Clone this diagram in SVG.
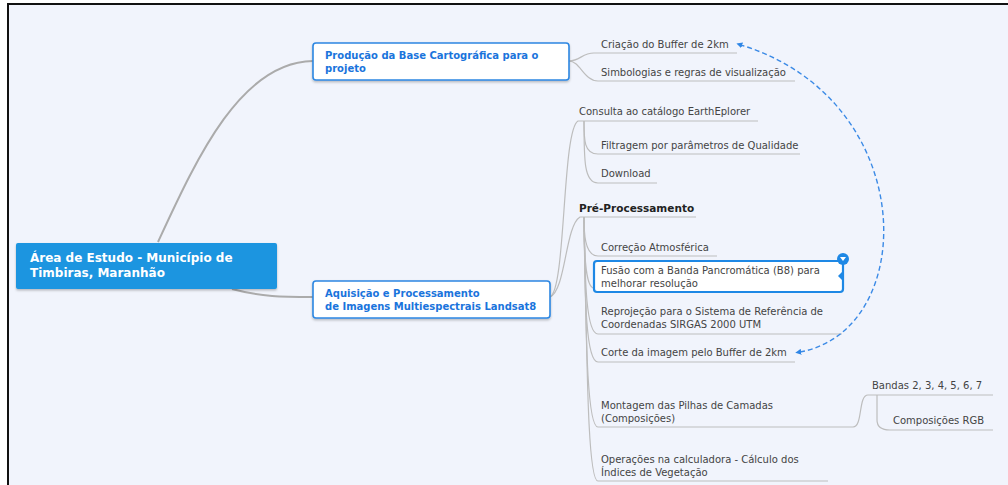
<svg xmlns="http://www.w3.org/2000/svg" width="1008" height="485" viewBox="0 0 1008 485">
<style>
.t{font-family:"DejaVu Sans",Verdana,sans-serif;font-size:10px;fill:#444}
.tb{font-family:"DejaVu Sans",Verdana,sans-serif;font-size:10.5px;font-weight:bold;fill:#222}
.mt{font-family:"DejaVu Sans",Verdana,sans-serif;font-size:10px;font-weight:bold;fill:#1a74dc}
.rt{font-family:"DejaVu Sans",Verdana,sans-serif;font-size:12px;font-weight:bold;fill:#fff}
.ln{fill:none;stroke:#bdbdbd;stroke-width:1.2}
.main{fill:none;stroke:#ababab;stroke-width:2}
.box{fill:#fff;stroke:#2d87e2;stroke-width:1.6}
</style>
<defs>
<marker id="ah" viewBox="0 0 10 10" refX="2" refY="5" markerWidth="6" markerHeight="6" orient="auto-start-reverse" markerUnits="userSpaceOnUse">
<path d="M0,0 L10,5 L0,10 z" fill="#2f86e6"/>
</marker>
<filter id="sh" x="-5%" y="-10%" width="110%" height="130%">
<feDropShadow dx="0" dy="1.5" stdDeviation="1.2" flood-color="#000" flood-opacity="0.25"/>
</filter>
</defs>
<rect x="0" y="0" width="1008" height="485" fill="#fff"/>
<rect x="8" y="4" width="1000" height="481" fill="#f1f4fc"/>
<path d="M8 485 L8 4 L1008 4" fill="none" stroke="#111" stroke-width="2"/>

<g id="connectors">
<path class="main" d="M158 242 C196 160 240 62 313 61"/>
<path class="main" d="M232 289 C262 297 282 297 313 297"/>
<path class="ln" d="M569 61 C580 61 582 53 594 53 L737 53"/>
<path class="ln" d="M569 61 C580 61 584 81 598 81 L795 81"/>
<path class="ln" d="M550 297 C566 290 562 130 578 121 L758 121"/>
<path class="ln" d="M550 297 C566 290 565 226 580 217 L696 217"/>
<path class="ln" d="M584 121 C584 140 584 154 598 154 L800 154"/>
<path class="ln" d="M584 121 C584 160 584 183 598 183 L657 183"/>
<path class="ln" d="M584 217 C584 230 584 256 598 256 L717 256"/>
<path class="ln" d="M584 217 C584 240 584 288 594 288"/>
<path class="ln" d="M584 217 C585 270 585 334 598 334 L842 334"/>
<path class="ln" d="M584 217 C585 290 585 362 598 362 L795 362"/>
<path class="ln" d="M584 217 C586 320 586 427 598 427 L853 427"/>
<path class="ln" d="M584 217 C587 350 587 481 598 481 L828 481"/>
<path class="ln" d="M853 427 C863 427 858 395 868 395 L993 395"/>
<path class="ln" d="M877 395 L877 420 Q877 430 890 430 L993 430"/>
<path d="M800 352 C920 330 920 100 741 45" fill="none" stroke="#3b8ae6" stroke-width="1.4" stroke-dasharray="5 3" marker-start="url(#ah)" marker-end="url(#ah)"/>
</g>

<g id="root">
<rect x="16" y="243" width="261" height="46" rx="2" fill="#1b95e0" filter="url(#sh)"/>
<text class="rt" x="30" y="262">Área de Estudo - Município de</text>
<text class="rt" x="30" y="277">Timbiras, Maranhão</text>
</g>

<g id="n-base">
<rect class="box" x="313" y="43" width="256" height="37" rx="3" filter="url(#sh)"/>
<text class="mt" x="325" y="59">Produção da Base Cartográfica para o</text>
<text class="mt" x="325" y="72">projeto</text>
</g>

<g id="n-aquisicao">
<rect class="box" x="313" y="281" width="237" height="37" rx="3" filter="url(#sh)"/>
<text class="mt" x="325" y="297">Aquisição e Processamento</text>
<text class="mt" x="325" y="310">de Imagens Multiespectrais Landsat8</text>
</g>

<g id="n-buffer"><text class="t" x="601" y="48">Criação do Buffer de 2km</text></g>
<g id="n-simb"><text class="t" x="601" y="76">Simbologias e regras de visualização</text></g>
<g id="n-consulta"><text class="t" x="579" y="115">Consulta ao catálogo EarthEplorer</text></g>
<g id="n-filtragem"><text class="t" x="601" y="149">Filtragem por parâmetros de Qualidade</text></g>
<g id="n-download"><text class="t" x="601" y="177">Download</text></g>
<g id="n-pre"><text class="tb" x="579" y="212">Pré-Processamento</text></g>
<g id="n-correcao"><text class="t" x="601" y="251">Correção Atmosférica</text></g>
<g id="n-fusao">
<rect x="594" y="261" width="249" height="31" rx="3" fill="#fff" stroke="#1e88e5" stroke-width="2.2"/>
<text class="t" x="601" y="274">Fusão com a Banda Pancromática (B8) para</text>
<text class="t" x="601" y="287">melhorar resolução</text>
<circle cx="843" cy="259" r="6" fill="#1e88e5"/>
<path d="M840 257 L846 257 L843 261 z" fill="#fff"/>
<path d="M842 272 L838 276 L842 280 z" fill="#1e88e5"/>
</g>
<g id="n-reproj">
<text class="t" x="601" y="315">Reprojeção para o Sistema de Referência de</text>
<text class="t" x="601" y="328">Coordenadas SIRGAS 2000 UTM</text>
</g>
<g id="n-corte"><text class="t" x="601" y="356">Corte da imagem pelo Buffer de 2km</text></g>
<g id="n-montagem">
<text class="t" x="601" y="409">Montagem das Pilhas de Camadas</text>
<text class="t" x="601" y="422">(Composições)</text>
</g>
<g id="n-bandas"><text class="t" x="872" y="389">Bandas 2, 3, 4, 5, 6, 7</text></g>
<g id="n-rgb"><text class="t" x="893" y="424">Composições RGB</text></g>
<g id="n-operacoes">
<text class="t" x="601" y="463">Operações na calculadora - Cálculo dos</text>
<text class="t" x="601" y="476">Índices de Vegetação</text>
</g>
</svg>
